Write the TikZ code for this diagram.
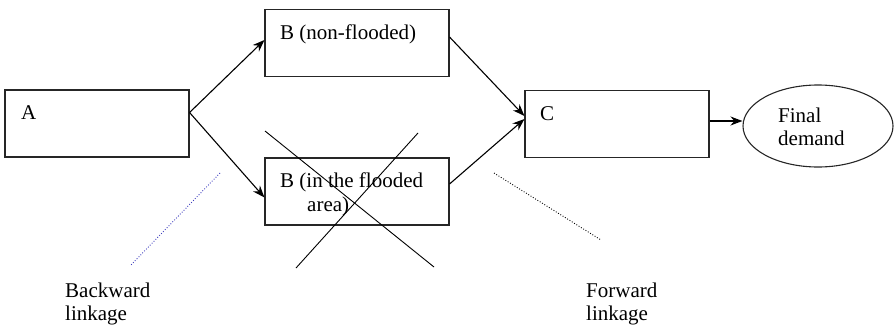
\documentclass[tikz,border=0pt]{standalone}
\usepackage{fontspec}
\setmainfont{Liberation Serif}
\usepackage{tikz}
\usetikzlibrary{%
    arrows.meta,%
    shapes.geometric%
}
\definecolor{dotblue}{rgb}{0.25,0.25,0.75}

\begin{document}
\begin{tikzpicture}[
  x=1pt,y=1pt,
  box/.style={draw=black!85,line width=1.1pt,minimum width=184pt,
    minimum height=67pt,inner sep=0pt},
  txt/.style={font={\fontsize{21}{23}\selectfont},inner sep=0pt,
    align=left},
  link/.style={-{Stealth[length=12pt,width=9pt]},line width=1.1pt},
  cross/.style={line width=0.9pt},
  linkage/.style={dash pattern=on 0.9pt off 1.8pt,line width=0.9pt},
  ]
  \useasboundingbox (0,0) rectangle (894,325);
  % Boxes
  \node[box] (a) at (97,201.5) {};
  \node[box] (bup) at (357,282) {};
  \node[box] (bdown) at (357,133.5) {};
  \node[box] (c) at (617,201) {};
  \node[ellipse,draw=black!85,line width=1.1pt,minimum width=150pt,
    minimum height=82pt,inner sep=0pt] (dem) at (818,199) {};
  % Labels in the boxes
  \node[txt,anchor=base west] (atxt) at (21,206) {A};
  \node[txt,anchor=base west] (buptxt) at (280,286) {B (non-flooded)};
  \node[txt,anchor=base west] (bdowntxt) at (280,138) {B (in the flooded};
  \node[txt,anchor=base west] (areatxt) at (307,114) {area)};
  \node[txt,anchor=base west] (ctxt) at (540,205) {C};
  \node[txt,anchor=base west] (fintxt) at (778,203) {Final};
  \node[txt,anchor=base west] (demtxt) at (778,180) {demand};
  % Linkage labels
  \node[txt,anchor=base west] (back) at (65,28) {Backward};
  \node[txt,anchor=base west] (backl) at (65,5) {linkage};
  \node[txt,anchor=base west] (fwd) at (586,28) {Forward};
  \node[txt,anchor=base west] (fwdl) at (586,5) {linkage};
  % Flows
  \draw[link] ([yshift=11pt]a.east) -- ([yshift=3pt]bup.west);
  \draw[link] ([yshift=11pt]a.east) -- ([yshift=-6pt]bdown.west);
  \draw[link] ([yshift=6pt]bup.east) -- ([yshift=8pt]c.west);
  \draw[link] ([yshift=7.5pt]bdown.east) -- ([yshift=5pt]c.west);
  \draw[link] ([yshift=3pt]c.east) -- ([yshift=5pt]dem.west);
  % Cross over the flooded B
  \coordinate (x1) at (265,194);
  \coordinate (x2) at (434,58);
  \coordinate (x3) at (418,192);
  \coordinate (x4) at (296,57);
  \draw[cross] (x1) -- (x2);
  \draw[cross] (x3) -- (x4);
  % Dotted linkage pointers
  \coordinate (bk1) at (220,152);
  \coordinate (bk2) at (130,59);
  \coordinate (fw1) at (494,152);
  \coordinate (fw2) at (601,85);
  \draw[linkage,dotblue] (bk1) -- (bk2);
  \draw[linkage] (fw1) -- (fw2);
\end{tikzpicture}
\end{document}
